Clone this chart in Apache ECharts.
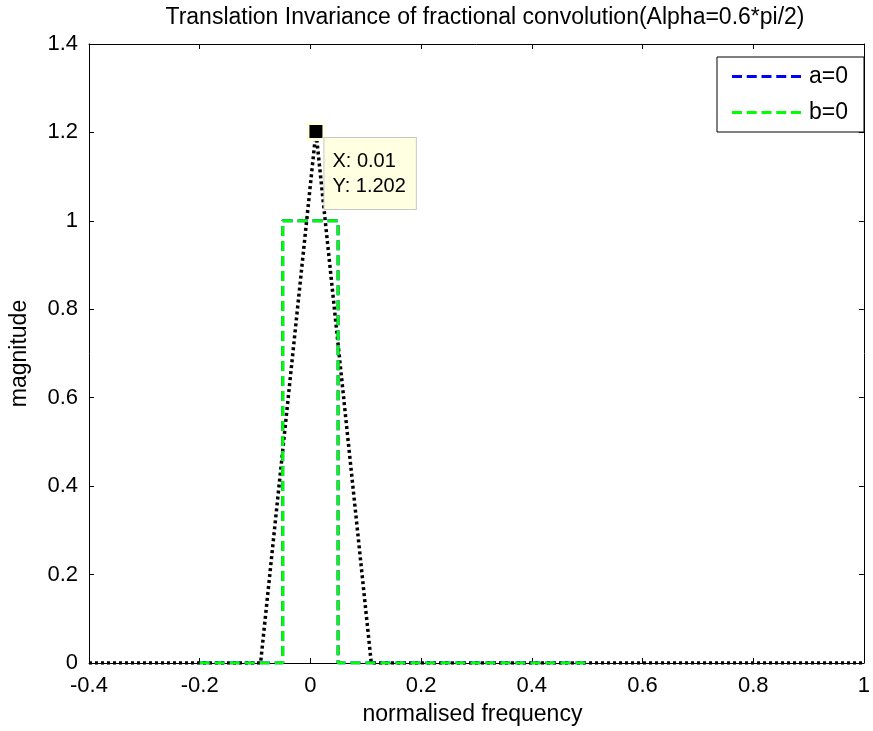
<!DOCTYPE html>
<html>
<head>
<meta charset="utf-8">
<script src="https://cdn.jsdelivr.net/npm/echarts@6/dist/echarts.min.js"></script>
<style>
html,body{margin:0;padding:0;background:#fff;}
#c{width:873px;height:731px;}
</style>
</head>
<body>
<div id="c"></div>
<script>
// ---- data ----
var titleText = 'Translation Invariance of fractional convolution(Alpha=0.6*pi/2)';
var xLabelText = 'normalised frequency';
var yLabelText = 'magnitude';
var seriesNames = ['a=0', 'b=0'];
// blue (a=0) and green (b=0) rectangular pulses (identical, green on top)
var rectX = [-0.2, -0.05, -0.05, 0.05, 0.05, 0.5];
var rectAY = [0, 0, 1, 1, 0, 0];
var rectBY = [0, 0, 1, 1, 0, 0];
// black dotted convolution result
var convX = [-0.4, -0.09, 0.01, 0.11, 1.0];
var convY = [0, 0, 1.202, 0, 0];
// data tip
var tipX = 0.01;
var tipY = 1.202;
var xTicks = [-0.4, -0.2, 0, 0.2, 0.4, 0.6, 0.8, 1];
var yTicks = [0, 0.2, 0.4, 0.6, 0.8, 1, 1.2, 1.4];

function pairs(xs, ys){ return xs.map(function(x,i){ return [x, ys[i]]; }); }
function fmt(v){ return String(+(+v).toFixed(1)); }

var FONT = 'Liberation Sans, Arial, sans-serif';
var dashIcon = 'path://M0,0h10v3h-10z M14.75,0h10v3h-10z M29.5,0h10v3h-10z M44.25,0h10v3h-10z M59,0h10v3h-10z';
var chart = echarts.init(document.getElementById('c'), null, {renderer:'canvas'});
var axisCommon = {
  axisLine:{show:true, onZero:false, lineStyle:{color:'#000', width:1}},
  splitLine:{show:false},
  axisTick:{show:true, inside:true, length:5, lineStyle:{color:'#000'}}
};
chart.setOption({
  animation:false,
  backgroundColor:'#fff',
  title:{text:titleText, left:480, top:1, textAlign:'center',
    textStyle:{fontFamily:FONT, fontSize:23, fontWeight:'normal', color:'#000'}},
  grid:{left:88, right:6, top:44, bottom:67},
  legend:{
    data:[{name:seriesNames[0], icon:dashIcon}, {name:seriesNames[1], icon:dashIcon}],
    orient:'vertical', left:717, top:57,
    backgroundColor:'#fff', borderColor:'#000', borderWidth:1, borderRadius:0,
    padding:[8,16,8,15], itemGap:13, itemWidth:69, itemHeight:3,
    textStyle:{fontFamily:FONT, fontSize:23, color:'#000', padding:[0,0,0,3]}
  },
  xAxis:[
    Object.assign({type:'value', min:-0.4, max:1, interval:0.2, position:'bottom',
      name:xLabelText, nameLocation:'middle', nameGap:40,
      nameTextStyle:{fontFamily:FONT, fontSize:23, color:'#000', padding:[0,8,0,0]},
      axisLabel:{fontFamily:FONT, fontSize:22, color:'#000', margin:12, formatter:fmt}}, axisCommon),
    Object.assign({type:'value', min:-0.4, max:1, interval:0.2, position:'top',
      axisLabel:{show:false}}, axisCommon)
  ],
  yAxis:[
    Object.assign({type:'value', min:0, max:1.4, interval:0.2, position:'left',
      name:yLabelText, nameLocation:'middle', nameGap:58,
      nameTextStyle:{fontFamily:FONT, fontSize:23, color:'#000'},
      axisLabel:{fontFamily:FONT, fontSize:22, color:'#000', margin:11, formatter:fmt}}, axisCommon),
    Object.assign({type:'value', min:0, max:1.4, interval:0.2, position:'right',
      axisLabel:{show:false}}, axisCommon)
  ],
  series:[
    {name:'conv', type:'line', data:pairs(convX, convY), symbol:'none', z:3,
      lineStyle:{color:'#000', width:3.5, type:[3,3]}},
    {name:seriesNames[0], type:'line', data:pairs(rectX, rectAY), symbol:'none', z:4,
      lineStyle:{color:'#0000ff', width:3, type:[10,5]}, itemStyle:{color:'#0000ff'}},
    {name:seriesNames[1], type:'line', data:pairs(rectX, rectBY), symbol:'none', z:5,
      lineStyle:{color:'#00ff00', width:3, type:[10,5]}, itemStyle:{color:'#00ff00'}},
    {name:'tip', type:'scatter', data:[[tipX, tipY]], symbol:'rect', symbolSize:16, z:10,
      itemStyle:{color:'#000', opacity:1, borderColor:'#ffffe1', borderWidth:3},
      label:{show:true, position:[18,16], formatter:'X: ' + tipX + '\nY: ' + tipY,
        fontFamily:FONT, fontSize:20, lineHeight:25, color:'#000',
        backgroundColor:'#ffffe1', borderColor:'#c8c8c8', borderWidth:1,
        padding:[11,10,10,8]}}
  ]
});
</script>
</body>
</html>
